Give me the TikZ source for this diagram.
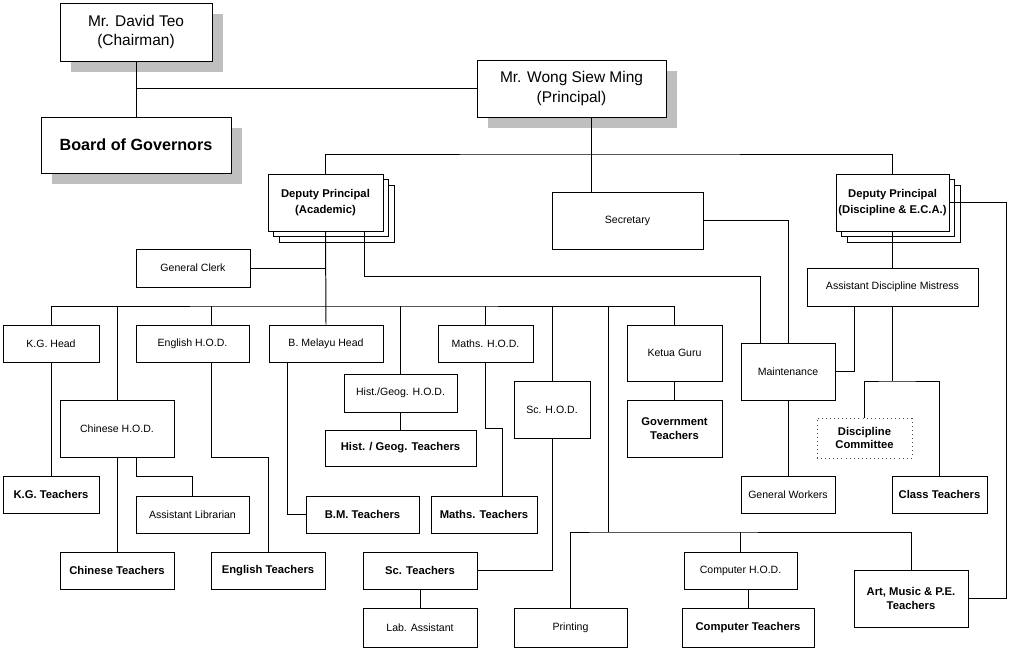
\documentclass[tikz,border=0pt]{standalone}
\usepackage{fontspec}
\setmainfont{Liberation Sans}
\usetikzlibrary{shadows}

\tikzset{
    box/.style={draw, fill=white, align=center, inner sep=1pt, font=\fontsize{7.5}{9}\selectfont},
    bbox/.style={box, font=\fontsize{8}{9.5}\selectfont\bfseries},
    sz/.style 2 args={minimum width=#1*0.025cm, minimum height=#2*0.025cm},
    headbox/.style={box, font=\fontsize{11}{14}\selectfont, drop shadow={shadow xshift=0.27cm, shadow yshift=-0.27cm, fill=black!25, opacity=1}},
    dpbox/.style={box, font=\fontsize{8}{11}\selectfont\bfseries,
        copy shadow={shadow xshift=0.28cm, shadow yshift=-0.28cm, draw=black, fill=white},
        copy shadow={shadow xshift=0.14cm, shadow yshift=-0.14cm, draw=black, fill=white}},
    dotbox/.style={box, draw=black!70, dash pattern=on 0.7pt off 2.2pt, font=\fontsize{8}{9}\selectfont\bfseries}
}

\begin{document}
\begin{tikzpicture}[x=0.025cm, y=-0.025cm, line width=0.7pt]
        \useasboundingbox (0,0) rectangle (1023,649);

        % Top: Chairman, Board and Principal
        \node[headbox, sz={152}{58}] at (136,32) (chair) {Mr. David Teo\\(Chairman)};
        \node[headbox, sz={190}{56}, font=\fontsize{11.5}{14}\selectfont\bfseries] at (136,145) (board) {Board of Governors};
        \node[headbox, sz={189}{57}] at (571.5,88.5) (principal) {Mr. Wong Siew Ming\\(Principal)};

        % Deputies, Secretary, Clerk
        \node[dpbox, sz={115}{57}] at (325.5,202.5) (dpa) {Deputy Principal\\(Academic)};
        \node[dpbox, sz={113}{57}] at (892.5,202.5) (dpd) {Deputy Principal\\(Discipline \& E.C.A.)};
        \node[box, sz={151}{57}] at (627.5,220.5) (secretary) {Secretary};
        \node[box, sz={114}{38}] at (193,268) (clerk) {General Clerk};
        \node[box, sz={171}{38}] at (892.5,287) (adm) {Assistant Discipline Mistress};

        % Heads of departments
        \node[box, sz={96}{37}] at (51,343.5) (kghead) {K.G. Head};
        \node[box, sz={113}{37}] at (192.5,343.5) (enghod) {English H.O.D.};
        \node[box, sz={114}{37}] at (326,343.5) (bmhead) {B. Melayu Head};
        \node[box, sz={95}{37}] at (485.5,343.5) (mathhod) {Maths. H.O.D.};
        \node[box, sz={95}{56}] at (674.5,353) (ketua) {Ketua Guru};
        \node[box, sz={114}{57}] at (117,428.5) (chinhod) {Chinese H.O.D.};
        \node[box, sz={113}{38}] at (400.5,393) (histhod) {Hist./Geog. H.O.D.};
        \node[box, sz={76}{57}] at (552,409.5) (schod) {Sc. H.O.D.};
        \node[box, sz={94}{57}] at (788,371.5) (maint) {Maintenance};
        \node[box, sz={113}{37}] at (740.5,570.5) (comphod) {Computer H.O.D.};

        % Teachers and staff
        \node[bbox, sz={95}{57}] at (674.5,428.5) (govteach) {Government\\Teachers};
        \node[bbox, sz={151}{36}] at (400.5,448) (histteach) {Hist. / Geog. Teachers};
        \node[dotbox, sz={95}{40}] at (864.5,438) (disccom) {Discipline\\Committee};
        \node[bbox, sz={96}{37}] at (51,494.5) (kgteach) {K.G. Teachers};
        \node[box, sz={94}{37}] at (788,494.5) (workers) {General Workers};
        \node[bbox, sz={95}{37}] at (939.5,494.5) (classteach) {Class Teachers};
        \node[box, sz={113}{37}] at (192.5,514.5) (librarian) {Assistant Librarian};
        \node[bbox, sz={113}{37}] at (362.5,514.5) (bmteach) {B.M. Teachers};
        \node[bbox, sz={106}{37}] at (484,514.5) (mathteach) {Maths. Teachers};
        \node[bbox, sz={114}{37}] at (117,570.5) (chinteach) {Chinese Teachers};
        \node[bbox, sz={114}{37}] at (268,570.5) (engteach) {English Teachers};
        \node[bbox, sz={114}{37}] at (420,570.5) (scteach) {Sc. Teachers};
        \node[bbox, sz={114}{57}] at (911,598.5) (arts) {Art, Music \& P.E.\\Teachers};
        \node[box, sz={114}{39}] at (420,627.5) (lab) {Lab. Assistant};
        \node[box, sz={113}{39}] at (570.5,627.5) (printing) {Printing};
        \node[bbox, sz={132}{39}] at (748,627.5) (compteach) {Computer Teachers};

        % Junctions
        \coordinate (trunk) at (591,154);
        \coordinate (abus) at (326,306);
        \coordinate (lbus) at (608,532);
        \coordinate (dpaj) at (364,276);
        \coordinate (maintj) at (760,276);
        \coordinate (admj) at (854,306);
        \coordinate (dcj) at (892.5,381);
        \coordinate (artj) at (1006,598.5);
        \coordinate (libj) at (136,476);
        \coordinate (engtop) at (211,306);
        \coordinate (engj) at (211,457);
        \coordinate (bmj) at (287,362);
        \coordinate (mathj) at (502,428);

        % Top lines
        \draw (chair.south) -- (board.north);
        \draw (principal.west) -- (principal.west -| chair.south);
        \draw (principal.south -| trunk) -- (secretary.north -| trunk);
        \draw (dpa.north) |- (trunk) -| (dpd.north);

        % Academic side
        \draw (dpa.south) -- (bmhead.north);
        \draw (clerk.east) -- (clerk.east -| dpa.south);
        \draw (kghead.north) |- (abus) -| (ketua.north);
        \draw (chinhod.north) -- (chinhod.north |- abus);
        \draw (engtop) -- (engtop |- enghod.north);
        \draw (histhod.north) -- (histhod.north |- abus);
        \draw (mathhod.north) -- (mathhod.north |- abus);
        \draw (schod.north) -- (schod.north |- abus);
        \draw (lbus |- abus) -- (lbus);
        \draw (printing.north) |- (lbus) -| (arts.north);
        \draw (comphod.north) -- (comphod.north |- lbus);

        \draw (kghead.south) -- (kgteach.north);
        \draw (chinhod.south) -- (chinteach.north);
        \draw (libj |- chinhod.south) -- (libj) -| (librarian.north);
        \draw (engj |- enghod.south) -- (engj) -| (engteach.north);
        \draw (bmteach.west) -| (bmj |- bmhead.south);
        \draw (histhod.south) -- (histteach.north);
        \draw (mathhod.south) |- (mathj) -- (mathj |- mathteach.north);
        \draw (scteach.east) -| (schod.south);
        \draw (scteach.south) -- (lab.north);
        \draw (ketua.south) -- (govteach.north);
        \draw (compteach.north) -- (compteach.north |- comphod.south);

        % Maintenance and discipline side
        \draw (dpaj |- dpa.south) -- (dpaj) -- (maintj) -- (maintj |- maint.north);
        \draw (secretary.east) -| (maint.north);
        \draw (maint.east) -| (admj |- adm.south);
        \draw (maint.south) -- (workers.north);
        \draw (dpd.south) -- (adm.north);
        \draw (adm.south) -- (dcj);
        \draw (disccom.north) |- (dcj) -| (classteach.north);
        \draw (dpd.east) -| (artj) -- (arts.east);

    \end{tikzpicture}
\end{document}
